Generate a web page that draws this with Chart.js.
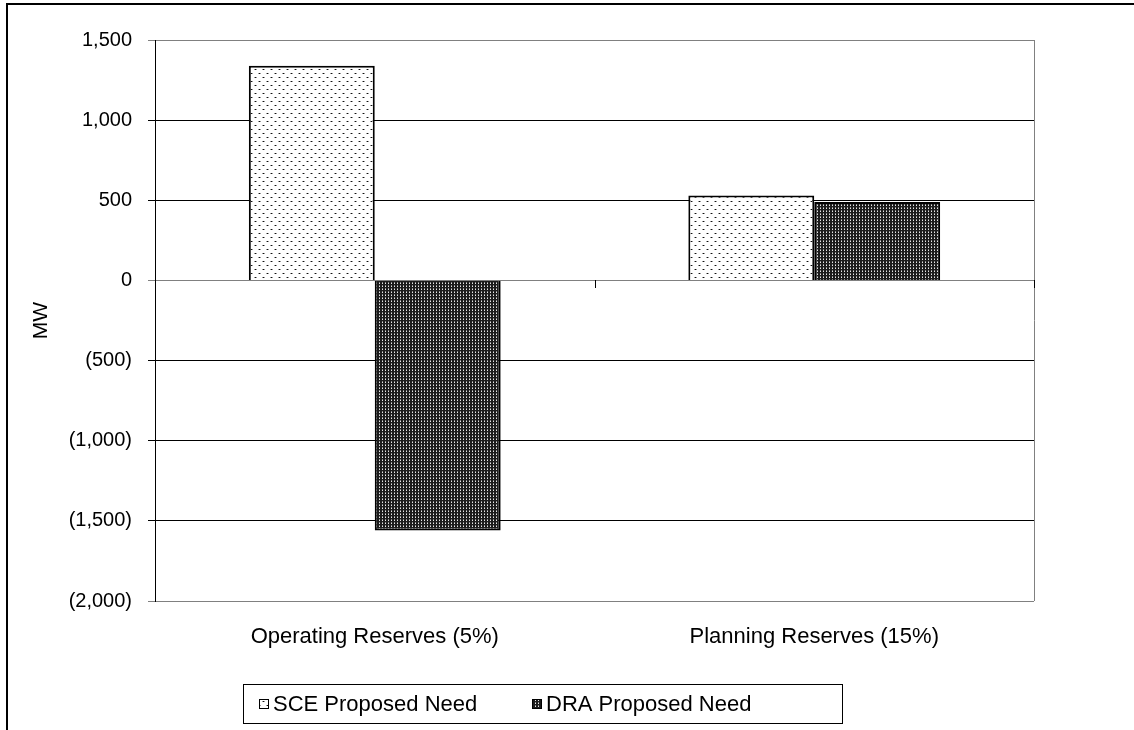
<!DOCTYPE html>
<html>
<head>
<meta charset="utf-8">
<script src="https://cdn.jsdelivr.net/npm/chart.js@4"></script>
<style>
  html, body { margin: 0; padding: 0; background: #fff; }
  #frame { position: absolute; left: 6px; top: 3px; width: 1400px; height: 1000px;
           border: 2px solid #000; box-sizing: border-box; }
  #wrap { position: absolute; left: 0; top: 0; width: 1134px; height: 730px; }
</style>
</head>
<body>
<div id="frame"></div>
<div id="wrap"><canvas id="c" width="1134" height="730"></canvas></div>
<script>
// Reserve need comparison, MW
const categories = ['Operating Reserves (5%)', 'Planning Reserves (15%)'];
const seriesNames = ['SCE Proposed Need', 'DRA Proposed Need'];
const sceNeed = [1340, 530];
const draNeed = [-1560, 490];
const yTicks = [-2000, -1500, -1000, -500, 0, 500, 1000, 1500];

const FONT = "'Liberation Sans', Arial, sans-serif";
const TICK_SIZE = 20;
const LABEL_SIZE = 22;

// Fill textures: light dotted and dark dotted
function makePattern(kind) {
  const t = document.createElement('canvas');
  const ctx = t.getContext('2d');
  if (kind === 'light') {
    t.width = 8; t.height = 8;
    ctx.fillStyle = '#fff'; ctx.fillRect(0, 0, 8, 8);
    ctx.fillStyle = '#9a9a9a';
    ctx.fillRect(2, 1, 1, 1); ctx.fillRect(4, 1, 1, 1);
    ctx.fillRect(6, 5, 1, 1); ctx.fillRect(0, 5, 1, 1);
    ctx.fillStyle = '#111';
    ctx.fillRect(3, 1, 1, 1);
    ctx.fillRect(7, 5, 1, 1);
  } else {
    t.width = 3; t.height = 3;
    ctx.fillStyle = '#1c1c1c'; ctx.fillRect(0, 0, 3, 3);
    ctx.fillStyle = '#8a8a8a'; ctx.fillRect(1, 0, 1, 1);
    ctx.fillStyle = '#e6e6e6'; ctx.fillRect(1, 1, 1, 1);
  }
  return ctx.createPattern(t, 'repeat');
}
const lightFill = makePattern('light');
const darkFill = makePattern('dark');

function fmt(v) {
  const s = Math.abs(v).toLocaleString('en-US');
  return v < 0 ? '(' + s + ')' : s;
}

// Plot frame, zero-line ticks and boxed legend
const decorations = {
  id: 'decorations',
  beforeDatasetsDraw(chart) {
    const { ctx, chartArea: a } = chart;
    ctx.save();
    ctx.strokeStyle = '#808080';
    ctx.lineWidth = 1;
    ctx.beginPath();
    ctx.moveTo(Math.round(a.right) + 0.5, a.top);
    ctx.lineTo(Math.round(a.right) + 0.5, a.bottom);
    ctx.stroke();
    ctx.restore();
  },
  afterDatasetsDraw(chart) {
    const { ctx, scales: { x, y } } = chart;
    const y0 = Math.round(y.getPixelForValue(0));
    ctx.save();
    ctx.strokeStyle = '#000';
    ctx.lineWidth = 1;
    for (let i = 0; i <= categories.length; i++) {
      const px = Math.round(x.getPixelForValue(i - 0.5)) + 0.5;
      ctx.beginPath();
      ctx.moveTo(px, y0);
      ctx.lineTo(px, y0 + 8);
      ctx.stroke();
    }
    ctx.restore();
  },
  afterDraw(chart) {
    const { ctx } = chart;
    const box = { x: 243.5, y: 684.5, w: 599, h: 39 };
    ctx.save();
    ctx.strokeStyle = '#000';
    ctx.lineWidth = 1;
    ctx.strokeRect(box.x, box.y, box.w, box.h);
    const cy = box.y + box.h / 2;
    const items = [
      { sx: 259, tx: 273 },
      { sx: 532, tx: 546 }
    ];
    chart.data.datasets.forEach((ds, i) => {
      const it = items[i];
      ctx.fillStyle = ds.backgroundColor;
      ctx.fillRect(it.sx, cy - 5, 10, 10);
      ctx.strokeStyle = '#000';
      ctx.strokeRect(it.sx + 0.5, cy - 4.5, 9, 9);
      ctx.fillStyle = '#000';
      ctx.font = LABEL_SIZE + 'px ' + FONT;
      ctx.textBaseline = 'middle';
      ctx.textAlign = 'left';
      ctx.fillText(ds.label, it.tx, cy + 1);
    });
    ctx.restore();
  }
};

const edgeGrey = v => (v === 1500 || v === -2000 || v === 0) ? '#808080' : '#000';

new Chart(document.getElementById('c'), {
  type: 'bar',
  data: {
    labels: categories,
    datasets: [
      { label: seriesNames[0], data: sceNeed, backgroundColor: lightFill,
        borderColor: '#000', borderWidth: 2 },
      { label: seriesNames[1], data: draNeed, backgroundColor: darkFill,
        borderColor: '#000', borderWidth: 2 }
    ]
  },
  options: {
    responsive: false,
    animation: false,
    events: [],
    layout: { padding: { top: 40, right: 100, left: 0, bottom: 79 } },
    datasets: { bar: { barPercentage: 1, categoryPercentage: 0.573 } },
    plugins: { legend: { display: false }, tooltip: { enabled: false } },
    scales: {
      x: {
        type: 'category',
        grid: { display: false, drawTicks: false },
        border: { display: false },
        ticks: { color: '#000', padding: 23, maxRotation: 0,
                 font: { family: FONT, size: LABEL_SIZE } },
        afterFit(s) { s.height = 50; }
      },
      y: {
        min: yTicks[0],
        max: yTicks[yTicks.length - 1],
        afterBuildTicks(s) { s.ticks = yTicks.map(v => ({ value: v })); },
        grid: {
          color: c => edgeGrey(c.tick ? c.tick.value : null),
          lineWidth: 1,
          tickLength: 7,
          drawTicks: true
        },
        border: { display: true, color: '#000', width: 1 },
        ticks: { color: '#000', padding: 16, callback: v => fmt(v),
                 font: { family: FONT, size: TICK_SIZE } },
        title: { display: true, text: 'MW', color: '#000',
                 font: { family: FONT, size: 21 },
                 padding: { top: 29, bottom: 0 } },
        afterFit(s) { s.width = 155; }
      }
    }
  },
  plugins: [decorations]
});
</script>
</body>
</html>
